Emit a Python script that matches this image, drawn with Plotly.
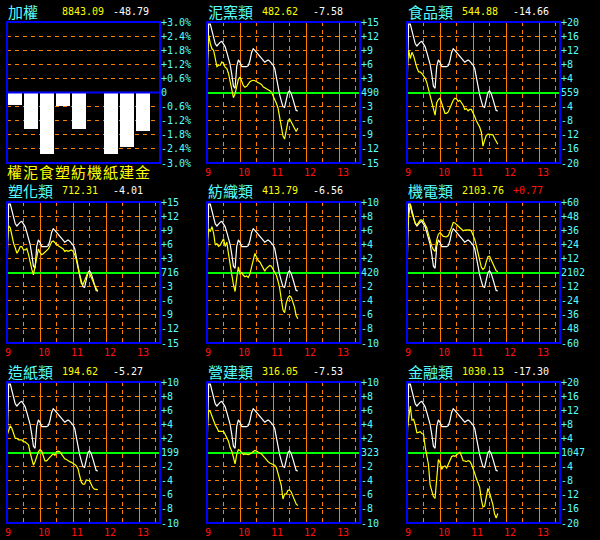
import plotly.graph_objects as go

# ---------------- data ----------------
minutes = list(range(0, 166, 3))          # minutes after 09:00
hour_pos = [0, 60, 120, 180, 240]
hour_labels = ["9", "10", "11", "12", "13"]
half_pos = [30, 90, 150, 210, 270]

# reference (white) curve, expressed in grid steps of each panel
taiex_rel = [0, 4.85, 4.85, 4.3, 3.95, 3.45, 3.3, 3.45, 3.57, 3.63, 3.44, 3.24, 2.85, 2.48,
             2.0, 1.28, 0.45, 0.3, 1.85, 2.31, 2.14, 1.83, 1.83, 1.83, 1.83, 1.9, 2.25, 2.84,
             3.1, 2.99, 2.85, 2.7, 2.52, 2.35, 2.22, 2.15, 2.23, 2.3, 2.22, 2.1, 1.95, 1.7,
             1.0, 0.3, -0.15, -0.6, -1.0, -1.05, -0.45, 0.0, 0.12, -0.08, -0.45, -0.97, -1.27, -1.31]

cement = [5.4, 12.2, 10.4, 9.3, 9.0, 7.3, 5.5, 5.8, 5.8, 6.5, 6.2, 5.4, 5.1, 4.1, 2.4, 1.1, -1.1,
          -0.3, 1.4, 2.8, 3.3, 2.4, 1.5, 1.1, 1.3, 1.8, 2.3, 2.5, 2.6, 2.5, 2.3, 2.2, 2.0, 1.7, 1.2,
          1.0, 0.8, 0.7, 0.4, 0.1, -0.6, -1.3, -2.3, -3.3, -5.4, -7.7, -9.2, -9.9, -8.4, -6.2, -5.6,
          -6.2, -6.9, -7.7, -8.3, -7.58]
food = [6.0, 12.0, 9.6, 11.4, 10.4, 8.2, 7.0, 5.9, 5.8, 5.4, 4.7, 4.0, 2.8, 1.0, -1.1, -2.4, -4.6,
        -6.4, -2.9, -2.0, -1.6, -3.2, -4.8, -5.9, -5.9, -5.5, -4.4, -3.0, -2.2, -1.6, -1.8, -2.5,
        -2.2, -2.9, -3.6, -4.8, -4.6, -5.2, -4.8, -4.8, -5.6, -6.8, -8.0, -8.9, -9.8, -11.2, -15.2,
        -13.6, -12.2, -11.8, -11.8, -11.8, -12.0, -13.0, -13.8, -14.66]
plastic = [5.4, 9.9, 9.5, 7.7, 6.2, 5.2, 4.1, 4.7, 5.5, 5.5, 4.8, 4.8, 5.1, 3.9, 2.1, 0.7, -0.5,
           1.4, 3.5, 5.0, 4.2, 3.8, 4.0, 4.4, 4.7, 5.0, 5.7, 6.5, 6.7, 6.3, 5.9, 5.7, 5.5, 5.3, 5.0,
           4.5, 4.7, 4.5, 4.7, 4.8, 4.5, 3.8, 2.7, 1.1, -0.9, -2.3, -2.6, -1.8, -0.8, 0.0, -0.2,
           -0.9, -1.8, -2.7, -3.5, -4.01]
textile = [4.0, 6.2, 5.8, 6.5, 5.6, 3.9, 4.1, 3.7, 3.9, 4.4, 4.8, 3.7, 4.3, 2.7, 0.8, -0.3, -1.7,
           -2.7, -0.8, 0.8, -0.2, 0.0, -0.4, -0.6, -0.5, -0.7, -0.2, 0.8, 1.6, 2.7, 2.2, 1.7, 1.5,
           1.1, 0.5, 0.2, 0.6, 0.8, 1.0, 0.9, 0.4, 0.1, -0.4, -1.2, -2.2, -3.8, -5.3, -5.7, -4.3,
           -3.6, -3.3, -3.5, -4.2, -4.9, -6.1, -6.56]
electric = [27.6, 48.0, 58.2, 50.4, 46.3, 42.0, 40.6, 43.2, 44.6, 44.8, 43.4, 40.8, 37.9, 32.4,
            27.0, 22.4, 19.4, 18.0, 27.6, 32.6, 34.0, 32.4, 30.7, 30.5, 30.4, 31.4, 34.2, 38.4,
            42.6, 42.2, 40.8, 39.4, 38.0, 37.2, 35.5, 36.0, 36.2, 36.2, 36.2, 35.4, 32.4, 28.2,
            22.8, 16.8, 9.0, 4.6, 2.6, 4.0, 9.0, 13.4, 13.8, 10.8, 6.6, 3.6, 1.4, 0.77]
paper = [2.4, 3.3, 3.8, 3.4, 2.5, 2.0, 2.0, 1.8, 1.8, 1.8, 1.5, 1.5, 1.3, 1.1, 0.0, -0.9, -1.8,
         -1.3, -0.5, 0.1, 0.4, 0.2, -0.5, -1.2, -1.2, -0.9, -0.7, -0.4, -0.2, -0.4, 0.1, 0.2, 0.1,
         -0.3, -0.7, -0.9, -1.0, -1.2, -1.3, -1.4, -1.5, -1.7, -1.9, -2.3, -3.3, -4.2, -4.5, -4.5,
         -3.9, -3.9, -4.0, -4.5, -5.0, -5.2, -5.2, -5.27]
construct = [3.0, 6.0, 5.8, 5.1, 4.4, 3.9, 3.5, 3.0, 3.0, 3.0, 3.0, 2.6, 2.1, 1.6, 0.7, 0.2, -0.7,
             -1.6, -0.3, 0.4, 0.3, 0.0, -0.3, -0.2, -0.3, -0.3, -0.2, 0.0, 0.2, 0.3, 0.2, 0.0,
             -0.1, -0.2, -0.5, -0.8, -1.0, -1.3, -1.5, -1.6, -1.7, -1.8, -2.1, -2.8, -3.8, -4.7,
             -6.6, -5.9, -5.9, -5.4, -5.3, -5.6, -6.1, -6.8, -7.3, -7.53]
finance = [6.0, 10.0, 13.2, 9.2, 9.4, 7.8, 5.6, 5.7, 5.9, 5.4, 5.2, 1.6, -1.5, -3.4, -9.2, -11.2,
           -12.5, -13.0, -7.4, -2.0, -2.8, -4.8, -4.0, -3.8, -4.4, -3.4, -2.4, -1.2, -0.9, -1.1,
           -0.7, -0.2, 0.1, -1.0, -2.3, -2.4, -2.6, -2.3, -2.5, -3.3, -4.4, -5.9, -7.4, -8.4, -9.8,
           -13.2, -15.4, -15.2, -12.0, -10.2, -11.4, -13.0, -14.8, -17.4, -18.6, -17.30]

bar_labels = ["權", "泥", "食", "塑", "紡", "機", "紙", "建", "金"]
bar_pct = [-0.53, -1.54, -2.63, -0.57, -1.54, 0.02, -2.63, -2.31, -1.63]
bar_ticks = [3.0, 2.4, 1.8, 1.2, 0.6, 0, -0.6, -1.2, -1.8, -2.4, -3.0]

names = ["加權", "泥窯類", "食品類", "塑化類", "紡織類", "機電類", "造紙類", "營建類", "金融類"]
last_vals = [8843.09, 482.62, 544.88, 712.31, 413.79, 2103.76, 194.62, 316.05, 1030.13]
changes = [-48.79, -7.58, -14.66, -4.01, -6.56, 0.77, -5.27, -7.53, -17.30]
ref_vals = [None, 490, 559, 716, 420, 2102, 199, 323, 1047]
steps = [0.6, 3, 4, 3, 2, 12, 2, 2, 4]
series = [None, cement, food, plastic, textile, electric, paper, construct, finance]

# ---------------- style ----------------
W, H = 600, 540
cols_x = [(7, 160), (207, 360), (407, 560)]
rows_y = [(22, 163), (202, 343), (382, 523)]
BLUE = "#0000FF"
ORANGE = "#FF8000"
GREEN = "#00FF00"
CYAN = "#55FFFF"
YELLOW = "#FFFF00"
RED = "#FF1010"
MONO = "DejaVu Sans Mono"
CJK = "Noto Sans CJK TC"

fig = go.Figure()
annotations = []
shapes = []

for i in range(9):
    r, c = divmod(i, 3)
    x0, x1 = cols_x[c]
    y0, y1 = rows_y[r]
    ax = "" if i == 0 else str(i + 1)
    xa, ya = "x" + ax, "y" + ax
    xdom = [x0 / W, x1 / W]
    ydom = [1 - y1 / H, 1 - y0 / H]

    if i == 0:
        fig.add_trace(go.Bar(x=list(range(9)), y=bar_pct, width=0.88,
                             marker=dict(color="white", line=dict(width=0)),
                             xaxis=xa, yaxis=ya, hoverinfo="skip"))
        fig.layout["xaxis"] = dict(domain=xdom, anchor=ya, range=[-0.48, 9.08],
                                   showgrid=False, zeroline=False, showticklabels=False,
                                   showline=False, ticks="", automargin=False)
        fig.layout["yaxis"] = dict(domain=ydom, anchor=xa, range=[-3, 3], side="right",
                                   tickvals=bar_ticks,
                                   ticktext=[("+%.1f%%" % v) if v > 0 else ("0" if v == 0 else "%.1f%%" % v) for v in bar_ticks],
                                   tickfont=dict(family=MONO, size=10, color=CYAN),
                                   showgrid=True, gridcolor=ORANGE, gridwidth=1, griddash="4px,4px",
                                   zeroline=False, showline=False, ticks="", automargin=False)
        shapes.append(dict(type="line", xref=xa + " domain", yref=ya, x0=0, x1=1, y0=0, y1=0,
                           line=dict(color=BLUE, width=2), layer="above"))
        for k, lab in enumerate(bar_labels):
            annotations.append(dict(x=k, xref=xa, y=1 - 171 / H, yref="paper", text=lab,
                                    showarrow=False, xanchor="center", yanchor="middle",
                                    font=dict(family=CJK, size=15, color=YELLOW)))
    else:
        st = steps[i]
        white = [v * st for v in taiex_rel]
        fig.add_trace(go.Scatter(x=minutes, y=white, mode="lines",
                                 line=dict(color="white", width=1.2),
                                 xaxis=xa, yaxis=ya, hoverinfo="skip"))
        fig.add_trace(go.Scatter(x=minutes, y=series[i], mode="lines",
                                 line=dict(color=YELLOW, width=1.2),
                                 xaxis=xa, yaxis=ya, hoverinfo="skip"))
        tv = [k * st for k in range(5, -6, -1)]
        tt = [("+%d" % v) if v > 0 else (str(ref_vals[i]) if v == 0 else "%d" % v) for v in tv]
        fig.layout["xaxis" + ax] = dict(domain=xdom, anchor=ya, range=[0, 278],
                                        tickvals=hour_pos, showticklabels=False, ticks="",
                                        showgrid=True, gridcolor=ORANGE, gridwidth=1,
                                        minor=dict(tickvals=half_pos, showgrid=True,
                                                   gridcolor=ORANGE, gridwidth=1,
                                                   griddash="4px,4px", ticks=""),
                                        zeroline=False, showline=False, automargin=False)
        fig.layout["yaxis" + ax] = dict(domain=ydom, anchor=xa, range=[-5 * st, 5 * st],
                                        side="right", tickvals=tv, ticktext=tt,
                                        tickfont=dict(family=MONO, size=10, color=CYAN),
                                        showgrid=True, gridcolor=ORANGE, gridwidth=1,
                                        griddash="4px,4px", zeroline=True,
                                        zerolinecolor=GREEN, zerolinewidth=1.5,
                                        showline=False, ticks="", automargin=False)
        for hp, hl in zip(hour_pos, hour_labels):
            annotations.append(dict(x=hp, xref=xa, y=1 - (y1 + 9) / H, yref="paper", text=hl,
                                    showarrow=False, xanchor="left", yanchor="middle", xshift=-4,
                                    font=dict(family=MONO, size=10, color=RED)))

    # frame
    shapes.append(dict(type="rect", xref=xa + " domain", yref=ya + " domain",
                       x0=0, x1=1, y0=0, y1=1, line=dict(color=BLUE, width=2), layer="above"))
    # titles
    ty = 1 - (y0 - 11) / H
    annotations.append(dict(x=x0 / W, y=ty, xref="paper", yref="paper", text=names[i],
                            showarrow=False, xanchor="left", yanchor="middle", xshift=-1,
                            font=dict(family=CJK, size=15, color=CYAN)))
    annotations.append(dict(x=(x0 + 54) / W, y=ty, xref="paper", yref="paper",
                            text="%.2f" % last_vals[i], showarrow=False, xanchor="left",
                            yanchor="middle", xshift=-1,
                            font=dict(family=MONO, size=10, color=YELLOW)))
    chg = changes[i]
    annotations.append(dict(x=(x0 + 105) / W, y=ty, xref="paper", yref="paper",
                            text=("+%.2f" % chg) if chg > 0 else "%.2f" % chg,
                            showarrow=False, xanchor="left", yanchor="middle", xshift=-1,
                            font=dict(family=MONO, size=10, color=RED if chg > 0 else "white")))

fig.update_layout(width=W, height=H, margin=dict(l=0, r=0, t=0, b=0, autoexpand=False),
                  paper_bgcolor="black", plot_bgcolor="black", showlegend=False,
                  annotations=annotations, shapes=shapes, bargap=0)
fig.write_html("out.html", config=dict(responsive=False, displayModeBar=False),
               post_script="document.body.style.margin='0';document.body.style.background='black';")
